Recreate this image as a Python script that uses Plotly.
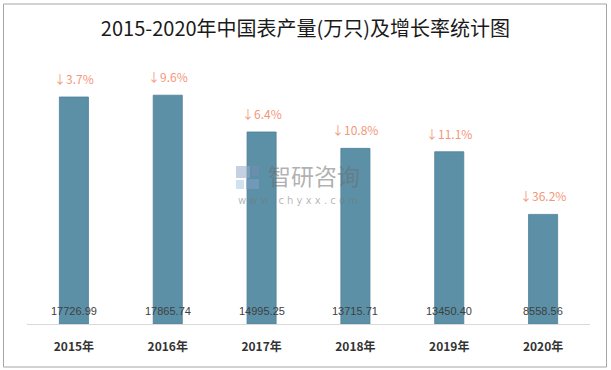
import plotly.graph_objects as go

years = ["2015年", "2016年", "2017年", "2018年", "2019年", "2020年"]
output = [17726.99, 17865.74, 14995.25, 13715.71, 13450.40, 8558.56]
growth = ["↓3.7%", "↓9.6%", "↓6.4%", "↓10.8%", "↓11.1%", "↓36.2%"]
title_text = "2015-2020年中国表产量(万只)及增长率统计图"

FONT = "Noto Sans CJK SC"
L, R, T, B = 27, 21, 42, 46
W, H = 611, 370
pw, ph = W - L - R, H - T - B


def px(x):
    return (x - L) / pw


def py(y):
    return (H - B - y) / ph


fig = go.Figure()
fig.add_trace(go.Bar(
    x=years, y=output,
    marker=dict(color="#5B90A7", line=dict(color="#4E8199", width=0.8)),
    hoverinfo="skip",
))

annotations = []
for yr, v, g in zip(years, output, growth):
    annotations.append(dict(
        x=yr, y=v, xref="x", yref="y", text=g, showarrow=False,
        yanchor="bottom", yshift=8,
        font=dict(family=FONT, size=12, color="#F4977A"),
    ))
    annotations.append(dict(
        x=yr, y=0, xref="x", yref="y", text=f"{v:.2f}", showarrow=False,
        yanchor="bottom", yshift=5,
        font=dict(family="Liberation Sans, Arial", size=11, color="#404040"),
    ))

# watermark
annotations.append(dict(
    x=px(266), y=py(175), xref="paper", yref="paper", text="智研咨询",
    showarrow=False, xanchor="left", yanchor="middle",
    font=dict(family=FONT, size=23, color="rgba(110,110,110,0.55)"),
))
annotations.append(dict(
    x=px(236), y=py(200), xref="paper", yref="paper",
    text="w w w . c h y x x . c o m", showarrow=False,
    xanchor="left", yanchor="middle",
    font=dict(family="DejaVu Sans", size=10, color="rgba(120,120,120,0.55)"),
))

shapes = [
    dict(type="rect", xref="paper", yref="paper",
         x0=px(3.5), x1=px(606.5), y0=py(367), y1=py(4),
         line=dict(color="#A6A6A6", width=1), fillcolor="rgba(0,0,0,0)",
         layer="below"),
    # watermark logo
    dict(type="rect", xref="paper", yref="paper",
         x0=px(236), x1=px(250), y0=py(178), y1=py(166),
         line=dict(width=0), fillcolor="rgba(150,170,200,0.55)"),
    dict(type="rect", xref="paper", yref="paper",
         x0=px(252), x1=px(259), y0=py(176), y1=py(166),
         line=dict(width=0), fillcolor="rgba(120,140,180,0.55)"),
    dict(type="rect", xref="paper", yref="paper",
         x0=px(236), x1=px(244), y0=py(189), y1=py(180),
         line=dict(width=0), fillcolor="rgba(170,200,225,0.55)"),
    dict(type="rect", xref="paper", yref="paper",
         x0=px(246), x1=px(259), y0=py(189), y1=py(179),
         line=dict(width=0), fillcolor="rgba(130,160,200,0.55)"),
]

fig.update_layout(
    width=W, height=H,
    margin=dict(l=L, r=R, t=T, b=B, autoexpand=False),
    paper_bgcolor="white", plot_bgcolor="white",
    showlegend=False,
    bargap=0.69,
    title=dict(text=title_text, x=0.5, xref="container", xanchor="center",
               y=1 - 29 / H, yref="container", yanchor="middle",
               font=dict(family=FONT, size=20, color="#1A1A1A")),
    xaxis=dict(showline=True, linecolor="#D9D9D9", linewidth=1, ticks="",
               showgrid=False, zeroline=False, automargin=False,
               ticklabelstandoff=12,
               tickfont=dict(family=FONT, size=12, color="#333333", weight="bold")),
    yaxis=dict(range=[0, 22022], visible=False, showgrid=False, zeroline=False,
               automargin=False),
    annotations=annotations,
    shapes=shapes,
)

fig.write_html(
    "out.html",
    config={"displayModeBar": False},
    post_script="document.body.style.margin='0';document.body.style.overflow='hidden';",
)
